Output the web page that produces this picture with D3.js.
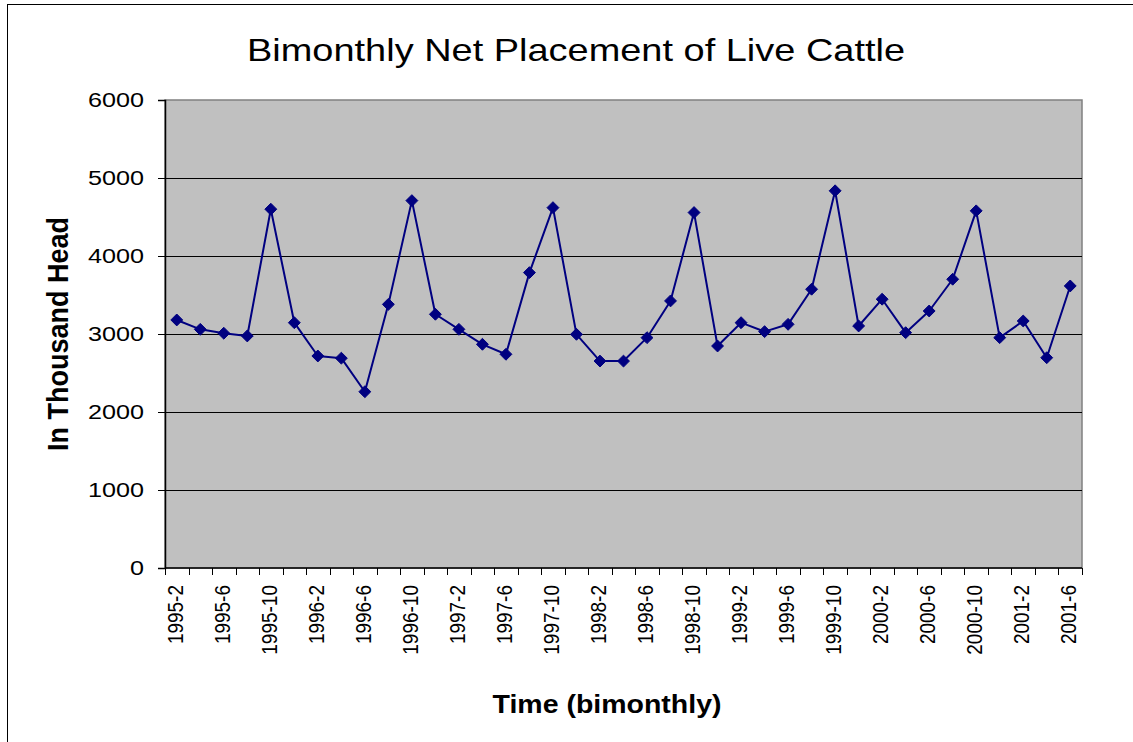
<!DOCTYPE html>
<html>
<head>
<meta charset="utf-8">
<script src="https://cdn.jsdelivr.net/npm/d3@7"></script>
<style>
  body { margin: 0; background: #fff; }
  svg { display: block; font-family: "Liberation Sans", Arial, sans-serif; }
</style>
</head>
<body>
<div id="chart"></div>
<script>
// bimonthly periods, 1995-2 .. 2001-6
const periods = [
  "1995-2", "1995-4", "1995-6", "1995-8", "1995-10", "1995-12",
  "1996-2", "1996-4", "1996-6", "1996-8", "1996-10", "1996-12",
  "1997-2", "1997-4", "1997-6", "1997-8", "1997-10", "1997-12",
  "1998-2", "1998-4", "1998-6", "1998-8", "1998-10", "1998-12",
  "1999-2", "1999-4", "1999-6", "1999-8", "1999-10", "1999-12",
  "2000-2", "2000-4", "2000-6", "2000-8", "2000-10", "2000-12",
  "2001-2", "2001-4", "2001-6"
];

// net placements, thousand head
const placements = [
  3180, 3060, 3010, 2975, 4600, 3145,
  2718, 2690, 2260, 3380, 4710, 3253,
  3060, 2868, 2740, 3787, 4620, 2996,
  2653, 2653, 2953, 3424, 4557, 2846,
  3145, 3030, 3124, 3574, 4836, 3103,
  3446, 3017, 3295, 3702, 4579, 2953,
  3167, 2696, 3616
];

const yTicks = [0, 1000, 2000, 3000, 4000, 5000, 6000];

const width = 1133;
const height = 742;
const margin = { top: 100, right: 51, bottom: 174, left: 165 };
const stretch = 1.2; // the original is drawn a bit wide

const svg = d3.select("#chart")
  .append("svg")
  .attr("width", width)
  .attr("height", height);

// chart frame
svg.append("rect")
  .attr("x", 7.5).attr("y", 4.5)
  .attr("width", width + 10).attr("height", height + 10)
  .attr("fill", "#fff")
  .attr("stroke", "#000")
  .attr("stroke-width", 1);

// Scales
const x = d3.scaleBand()
  .domain(periods)
  .range([margin.left, width - margin.right]);

const y = d3.scaleLinear()
  .domain([0, 6000])
  .range([height - margin.bottom, margin.top]);

// plot area
svg.append("rect")
  .attr("x", margin.left)
  .attr("y", margin.top)
  .attr("width", width - margin.left - margin.right)
  .attr("height", height - margin.top - margin.bottom)
  .attr("fill", "#c0c0c0")
  .attr("stroke", "#808080")
  .attr("stroke-width", 1.5);

// gridlines
svg.append("g")
  .selectAll("line")
  .data(yTicks.filter(d => d > 0 && d < 6000))
  .join("line")
  .attr("x1", margin.left)
  .attr("x2", width - margin.right)
  .attr("y1", d => Math.round(y(d)) + 0.5)
  .attr("y2", d => Math.round(y(d)) + 0.5)
  .attr("stroke", "#000")
  .attr("stroke-width", 1);

// Axes
const yAxis = g => g
  .attr("transform", `translate(${margin.left},0)`)
  .call(d3.axisLeft(y).tickValues(yTicks).tickFormat(d3.format("d")).tickSize(7).tickPadding(0))
  .call(g => g.select(".domain").attr("stroke", "#000").attr("stroke-width", 1.5))
  .call(g => g.selectAll(".tick line").attr("stroke", "#000"))
  .call(g => g.selectAll(".tick text")
    .attr("x", null)
    .attr("transform", `translate(-21,0) scale(${stretch},1)`)
    .attr("font-size", 21)
    .attr("font-family", "Liberation Sans, Arial, sans-serif")
    .attr("fill", "#000"));

svg.append("g").call(yAxis);

// x axis: ticks on category boundaries, labels every second period
const xBase = height - margin.bottom;
const xg = svg.append("g");

xg.append("line")
  .attr("x1", margin.left).attr("x2", width - margin.right)
  .attr("y1", xBase).attr("y2", xBase)
  .attr("stroke", "#000").attr("stroke-width", 1.5);

const bounds = periods.map(p => x(p)).concat([x(periods[periods.length - 1]) + x.bandwidth()]);
xg.selectAll("line.tick")
  .data(bounds)
  .join("line")
  .attr("class", "tick")
  .attr("x1", d => Math.round(d) + 0.5)
  .attr("x2", d => Math.round(d) + 0.5)
  .attr("y1", xBase)
  .attr("y2", xBase + 7)
  .attr("stroke", "#000");

xg.selectAll("text")
  .data(periods.filter((p, i) => i % 2 === 0))
  .join("text")
  .attr("transform", d => `translate(${x(d) + x.bandwidth() / 2 + 6},${xBase + 17}) scale(${stretch},1) rotate(-90)`)
  .attr("text-anchor", "end")
  .attr("font-size", 19)
  .attr("fill", "#000")
  .text(d => d);

// Line + markers
const line = d3.line()
  .x((d, i) => x(periods[i]) + x.bandwidth() / 2)
  .y(d => y(d));

svg.append("path")
  .datum(placements)
  .attr("fill", "none")
  .attr("stroke", "#000080")
  .attr("stroke-width", 2)
  .attr("stroke-linejoin", "round")
  .attr("d", line);

const diamond = d3.symbol().type(d3.symbolDiamond2).size(90);
svg.append("g")
  .selectAll("path")
  .data(placements)
  .join("path")
  .attr("transform", (d, i) => `translate(${x(periods[i]) + x.bandwidth() / 2},${y(d)})`)
  .attr("d", diamond)
  .attr("fill", "#000080")
  .attr("stroke", "#000080")
  .attr("stroke-width", 1);

// Titles
svg.append("text")
  .attr("x", 576)
  .attr("y", 61)
  .attr("text-anchor", "middle")
  .attr("font-size", 32)
  .attr("textLength", 658)
  .attr("lengthAdjust", "spacingAndGlyphs")
  .attr("fill", "#000")
  .text("Bimonthly Net Placement of Live Cattle");

svg.append("text")
  .attr("transform", `translate(68,${(margin.top + height - margin.bottom) / 2}) scale(1.1,1) rotate(-90)`)
  .attr("text-anchor", "middle")
  .attr("font-size", 27)
  .attr("font-weight", "bold")
  .attr("fill", "#000")
  .text("In Thousand Head");

svg.append("text")
  .attr("x", 607)
  .attr("y", 713)
  .attr("text-anchor", "middle")
  .attr("font-size", 26)
  .attr("font-weight", "bold")
  .attr("textLength", 229)
  .attr("lengthAdjust", "spacingAndGlyphs")
  .attr("fill", "#000")
  .text("Time (bimonthly)");
</script>
</body>
</html>
